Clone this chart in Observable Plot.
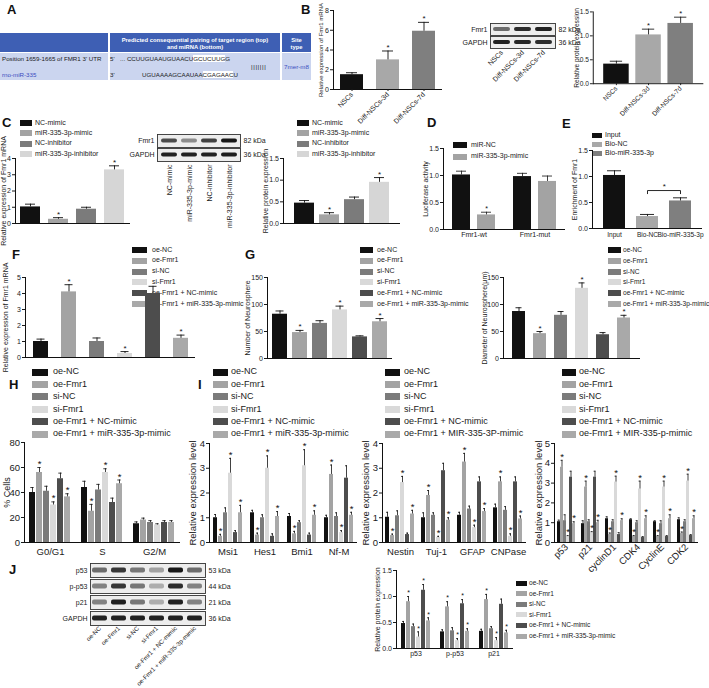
<!DOCTYPE html>
<html><head><meta charset="utf-8">
<script src="https://cdn.jsdelivr.net/npm/d3@7"></script>
<script src="https://cdn.jsdelivr.net/npm/@observablehq/plot@0.6"></script>
<style>
html,body{margin:0;padding:0;background:#fff;}
#fig{position:relative;width:709px;height:688px;overflow:hidden;font-family:'Liberation Sans',Arial,Helvetica,sans-serif;color:#1a1a1a;}
svg{overflow:visible;}
</style></head>
<body><div id="fig"></div>
<script>
// ---------------- DATA ----------------
const series6 = ["oe-NC","oe-Fmr1","si-NC","si-Fmr1","oe-Fmr1 + NC-mimic","oe-Fmr1 + miR-335-3p-mimic"];
const legendI2 = ["oe-NC","oe-Fmr1","si-NC","si-Fmr1","oe-Fmr1 + NC-mimic","oe-Fmr1 + MIR-335-3P-mimic"];
const legendI3 = ["oe-NC","oe-Fmr1","si-NC","si-Fmr1","oe-Fmr1 + NC-mimic","oe-Fmr1 + MIR-335-p-mimic"];
const gray6 = ["#111111","#a3a3a3","#7b7b7b","#d9d9d9","#4d4d4d","#a9a9a9"];

// B
const bCats = ["NSCs","Diff-NSCs-3d","Diff-NSCs-7d"];
const bColors = ["#111111","#a8a8a8","#7f7f7f"];
const bMrna = [1.5, 3.0, 5.9];
const bMrnaErr = [0.2, 0.9, 0.9];
const bMrnaSig = [0, 1, 1];
const bBlotRows = ["Fmr1","GAPDH"];
const bBlotKda = ["82 kDa","36 kDa"];
const bBlot = [[0.55, 0.85, 0.9],[0.9, 0.88, 0.85]];
const bProt = [0.41, 1.02, 1.26];
const bProtErr = [0.06, 0.12, 0.13];
const bProtSig = [0, 1, 1];

// C
const cCats = ["NC-mimic","miR-335-3p-mimic","NC-inhibitor","miR-335-3p-inhibitor"];
const cColors = ["#111111","#a3a3a3","#7b7b7b","#d6d6d6"];
const cMrna = [1.02, 0.26, 0.88, 3.3];
const cMrnaErr = [0.17, 0.1, 0.12, 0.25];
const cMrnaSig = [0, 1, 0, 1];
const cBlotRows = ["Fmr1","GAPDH"];
const cBlotKda = ["82 kDa","36 kDa"];
const cBlot = [[0.7, 0.4, 0.75, 0.95],[0.9, 0.9, 0.9, 0.92]];
const cProt = [0.47, 0.2, 0.55, 0.95];
const cProtErr = [0.06, 0.05, 0.06, 0.11];
const cProtSig = [0, 1, 0, 1];

// D
const dGroups = ["Fmr1-wt","Fmr1-mut"];
const dSeries = ["miR-NC","miR-335-3p-mimic"];
const dColors = ["#111111","#a3a3a3"];
const dValues = [[1.01, 0.27],[0.98, 0.89]];
const dErr = [[0.07, 0.05],[0.06, 0.1]];
const dSig = [[0, 1],[0, 0]];

// E
const eCats = ["Input","Bio-NC","Bio-miR-335-3p"];
const eColors = ["#111111","#a8a8a8","#7f7f7f"];
const eValues = [1.02, 0.23, 0.53];
const eErr = [0.09, 0.04, 0.06];
const eSig = [0, 0, 0];
const eBracketPair = ["Bio-NC","Bio-miR-335-3p"];
const eBracketLevels = [0.67, 0.73];
const eStarLevel = 0.8;

// F, G
const fValues = [1.0, 4.1, 1.0, 0.25, 4.0, 1.2];
const fErr = [0.15, 0.45, 0.22, 0.12, 0.45, 0.2];
const fSig = [0, 1, 0, 1, 0, 1];
const g1Values = [82, 48, 65, 90, 40, 68];
const g1Err = [6, 4, 5, 7, 2, 6];
const g1Sig = [0, 1, 0, 1, 0, 1];
const g2Values = [87, 46, 80, 130, 44, 75];
const g2Err = [7, 4, 7, 10, 4, 5];
const g2Sig = [0, 1, 0, 1, 0, 1];

// H
const hGroups = ["G0/G1","S","G2/M"];
const hValues = [[40, 56, 41, 30, 51, 36.5],[44, 25, 42, 56, 32, 47],[15, 18, 16, 14, 16, 16]];
const hErr = [[4, 4, 4, 2.5, 4.5, 2.5],[5, 5.5, 4.5, 3, 3.5, 3],[1.5, 1.5, 1.5, 1, 1.5, 1.5]];
const hSig = [[0, 1, 0, 1, 0, 1],[0, 1, 0, 1, 0, 1],[0, 0, 0, 0, 0, 0]];

// I
const i1Genes = ["Msi1","Hes1","Bmi1","Nf-M"];
const i1Values = [[1.0, 0.25, 1.2, 2.8, 0.4, 1.2],[1.2, 0.3, 1.0, 3.0, 0.25, 1.05],[1.05, 0.35, 0.8, 3.1, 0.3, 1.1],[1.0, 2.75, 1.05, 0.4, 2.6, 1.1]];
const i1Err = [[0.13, 0.08, 0.2, 0.6, 0.08, 0.3],[0.1, 0.08, 0.12, 0.5, 0.1, 0.2],[0.12, 0.1, 0.08, 0.65, 0.08, 0.18],[0.1, 0.38, 0.15, 0.08, 0.5, 0.12]];
const i1Sig = [[0,1,0,1,0,1],[0,1,0,1,0,1],[0,1,0,1,0,1],[0,1,0,1,0,1]];
const i2Genes = ["Nestin","Tuj-1","GFAP","CNPase"];
const i2Values = [[1.02, 0.28, 1.08, 2.42, 0.32, 1.15],[1.0, 1.9, 1.1, 0.2, 2.9, 0.9],[1.1, 3.25, 1.35, 0.6, 2.45, 1.25],[1.4, 2.45, 1.3, 0.25, 2.45, 0.95]];
const i2Err = [[0.2, 0.06, 0.2, 0.25, 0.06, 0.15],[0.2, 0.2, 0.1, 0.05, 0.3, 0.1],[0.12, 0.35, 0.12, 0.1, 0.2, 0.12],[0.15, 0.2, 0.15, 0.1, 0.2, 0.12]];
const i2Sig = [[0,1,0,1,0,1],[0,1,0,1,0,1],[0,1,0,1,0,1],[0,1,0,1,0,1]];
const i3Genes = ["p53","p21","cyclinD1","CDK4","CyclinE","CDK2"];
const i3Values = [[1.05, 3.8, 1.1, 0.3, 3.3, 0.95],[0.95, 2.8, 1.05, 0.5, 3.3, 1.0],[1.2, 0.4, 1.05, 3.05, 0.4, 1.1],[1.15, 0.3, 1.0, 2.7, 0.25, 1.2],[1.05, 0.3, 0.95, 2.8, 0.3, 1.2],[1.15, 0.45, 1.05, 3.1, 0.35, 1.2]];
const i3Err = [[0.08, 0.35, 0.3, 0.05, 0.3, 0.1],[0.15, 0.3, 0.1, 0.05, 0.3, 0.12],[0.1, 0.08, 0.1, 0.3, 0.1, 0.1],[0.05, 0.05, 0.1, 0.4, 0.05, 0.15],[0.05, 0.05, 0.15, 0.3, 0.05, 0.2],[0.1, 0.08, 0.1, 0.35, 0.05, 0.15]];
const i3Sig = [[0,1,0,1,0,1],[0,1,0,1,0,1],[0,1,0,1,0,1],[0,1,0,1,0,1],[0,1,0,1,0,1],[0,1,0,1,0,1]];

// J
const jBlotRows = ["p53","p-p53","p21","GAPDH"];
const jBlotKda = ["53 kDa","44 kDa","21 kDa","36 kDa"];
const jBlot = [[0.55, 0.8, 0.5, 0.3, 0.95, 0.55],[0.45, 0.8, 0.5, 0.25, 0.85, 0.45],[0.45, 0.9, 0.5, 0.25, 0.9, 0.45],[0.9, 0.9, 0.9, 0.9, 0.9, 0.9]];
const jProteins = ["p53","p-p53","p21"];
const jValues = [[0.48, 0.9, 0.42, 0.22, 1.12, 0.53],[0.32, 0.8, 0.34, 0.15, 0.86, 0.33],[0.33, 0.94, 0.38, 0.15, 0.85, 0.3]];
const jErr = [[0.04, 0.1, 0.05, 0.1, 0.11, 0.06],[0.04, 0.1, 0.06, 0.04, 0.08, 0.05],[0.04, 0.1, 0.04, 0.06, 0.1, 0.05]];
const jSig = [[0,1,0,1,1,1],[0,1,0,1,1,1],[0,1,0,1,0,1]];

// ---------------- HELPERS ----------------
const FONT = "'Liberation Sans', Arial, Helvetica, sans-serif";
const INK = "#111111";
const fig = document.getElementById("fig");
const PAD = {l: 40, r: 6, t: 10, b: 40};

function put(node, left, top) {
  const d = document.createElement("div");
  d.style.cssText = `position:absolute;left:${left}px;top:${top}px;`;
  d.appendChild(node); fig.appendChild(d);
}
function txt(t, left, top, css) {
  const d = document.createElement("div");
  d.textContent = t;
  d.style.cssText = `position:absolute;left:${left}px;top:${top}px;white-space:nowrap;${css || ""}`;
  fig.appendChild(d); return d;
}
function panelLabel(t, x, y) { txt(t, x, y, "font-weight:bold;font-size:13px;line-height:13px;color:#111;"); }
function legend(labels, colors, o) {
  labels.forEach((t, i) => {
    const cy = o.y + i * o.rowH;
    const s = document.createElement("div");
    s.style.cssText = `position:absolute;left:${o.x}px;top:${cy - o.sh / 2}px;width:${o.sw}px;height:${o.sh}px;background:${colors[i]};`;
    fig.appendChild(s);
    txt(t, o.tx, cy - o.fs * 0.62, `font-size:${o.fs}px;line-height:${o.fs * 1.2}px;color:#1a1a1a;`);
  });
}
function dims(f, pad) {
  return {left: f.x0 - pad.l, top: f.y0 - pad.t,
    width: f.x1 - f.x0 + pad.l + pad.r, height: f.y1 - f.y0 + pad.t + pad.b,
    marginLeft: pad.l, marginRight: pad.r, marginTop: pad.t, marginBottom: pad.b};
}
function styleFor(fs) { return {fontFamily: FONT, fontSize: fs + "px", color: "#1a1a1a", background: "transparent", overflow: "visible"}; }
function yAxis(o) {
  const lfs = o.lfs ?? o.fs;
  return [
    Plot.axisY({ticks: o.ticks, tickSize: 3, tickPadding: 1.5, tickFormat: o.fmt, fontSize: o.fs, label: null}),
    Plot.axisY({ticks: [], tickSize: 0, fontSize: lfs, label: o.ylabel, labelAnchor: "center", labelArrow: "none",
      labelOffset: o.frame.x0 - o.labelX + lfs / 2})
  ];
}

function simpleBars(o) {
  const data = o.cats.map((c, i) => ({c, v: o.values[i], e: o.errs[i], s: o.sig[i]}));
  const d = dims(o.frame, PAD);
  const top = (r) => r.v + r.e;
  const marks = [
    Plot.barY(data, {x: "c", y: "v", fill: "c"}),
    Plot.ruleX(data, {x: "c", y1: "v", y2: top, stroke: INK, strokeWidth: 0.9}),
    Plot.tickY(data, {x: "c", y: top, stroke: INK, strokeWidth: 0.9, insetLeft: o.cap, insetRight: o.cap}),
    Plot.text(data.filter((r) => r.s), {x: "c", y: top, text: () => "*", dy: -3.5, fontSize: o.fs + 1, fill: INK}),
    Plot.ruleY([0], {stroke: INK, strokeWidth: 1}),
    Plot.frame({anchor: "left", stroke: INK, strokeWidth: 1}),
    ...yAxis(o)
  ];
  if (o.xlab) marks.push(Plot.axisX({tickSize: o.xtick ?? 2, tickPadding: o.xpad ?? 2, tickRotate: o.rot ?? 0, fontSize: o.xfs ?? o.fs, label: null}));
  if (o.extra) marks.push(...o.extra);
  const xs = {domain: o.cats, paddingInner: o.pi, paddingOuter: o.po};
  if (!o.xlab) xs.axis = null;
  const svg = Plot.plot({
    width: d.width, height: d.height, marginLeft: d.marginLeft, marginRight: d.marginRight,
    marginTop: d.marginTop, marginBottom: d.marginBottom, style: styleFor(o.fs),
    x: xs, y: {domain: [0, o.ymax]}, color: {domain: o.cats, range: o.colors}, marks
  });
  put(svg, d.left, d.top);
}

function groupedBars(o) {
  const data = o.groups.flatMap((g, i) => o.series.map((s, j) => ({g, s, v: o.values[i][j], e: o.errs[i][j], sig: o.sig[i][j]})));
  const d = dims(o.frame, PAD);
  const top = (r) => r.v + r.e;
  const marks = [
    Plot.barY(data, {fx: "g", x: "s", y: "v", fill: "s"}),
    Plot.ruleX(data, {fx: "g", x: "s", y1: "v", y2: top, stroke: INK, strokeWidth: 0.8}),
    Plot.tickY(data, {fx: "g", x: "s", y: top, stroke: INK, strokeWidth: 0.8, insetLeft: o.cap, insetRight: o.cap}),
    Plot.text(data.filter((r) => r.sig), {fx: "g", x: "s", y: top, text: () => "*", dy: -3.5, fontSize: o.fs, fill: INK}),
    Plot.ruleY([0], {stroke: INK, strokeWidth: 1}),
    Plot.frame({anchor: "left", facetAnchor: "left", stroke: INK, strokeWidth: 1}),
    ...yAxis(o),
    Plot.axisFx({anchor: "bottom", tickSize: 0, tickPadding: o.xpad, tickRotate: o.rot ?? 0, fontSize: o.fs, label: null})
  ];
  const svg = Plot.plot({
    width: d.width, height: d.height, marginLeft: d.marginLeft, marginRight: d.marginRight,
    marginTop: d.marginTop, marginBottom: d.marginBottom, style: styleFor(o.fs),
    fx: {domain: o.groups, paddingInner: 0, paddingOuter: 0},
    x: {domain: o.series, paddingInner: o.pi, paddingOuter: o.po, axis: null},
    y: {domain: [0, o.ymax]}, color: {domain: o.series, range: o.colors}, marks
  });
  put(svg, d.left, d.top);
}

function blot(o) {
  const data = o.rows.flatMap((r, i) => o.lanes.map((l, j) => ({r, l, v: o.intensity[i][j]})));
  const d = dims(o.frame, {l: 40, r: 35, t: 2, b: 90});
  const svg = Plot.plot({
    width: d.width, height: d.height, marginLeft: d.marginLeft, marginRight: d.marginRight,
    marginTop: d.marginTop, marginBottom: d.marginBottom, style: styleFor(o.fs),
    x: {domain: o.lanes, paddingInner: 0.2, paddingOuter: 0.12},
    fy: {domain: o.rows, paddingInner: o.gap, paddingOuter: 0},
    color: {type: "linear", domain: [0, 1], range: ["#e2e2e2", "#0c0c0c"]},
    marks: [
      Plot.frame({fill: "#ededed", stroke: "#333", strokeWidth: 0.9}),
      Plot.cell(data, {fy: "r", x: "l", fill: "v", insetTop: o.inset, insetBottom: o.inset, rx: 2}),
      Plot.axisFy({anchor: "left", tickSize: 0, tickPadding: 3, label: null, fontSize: o.fs}),
      Plot.axisFy({anchor: "right", tickSize: 0, tickPadding: 3, label: null, fontSize: o.fs,
        tickFormat: (r) => o.kda[o.rows.indexOf(r)]}),
      Plot.axisX({anchor: "bottom", tickSize: 0, tickPadding: o.xpad ?? 3, tickRotate: o.rot, label: null, fontSize: o.xfs ?? o.fs})
    ]
  });
  put(svg, d.left, d.top);
}

// ---------------- PANEL A (table) ----------------
(function () {
  const box = (l, t, w, h, bg) => {
    const d = document.createElement("div");
    d.style.cssText = `position:absolute;left:${l}px;top:${t}px;width:${w}px;height:${h}px;background:${bg};`;
    fig.appendChild(d); return d;
  };
  box(0, 33, 311, 19, "#3e5fb4");
  box(0, 53, 311, 27, "#cbd5ef");
  box(108, 33, 2, 47, "#ffffff");
  box(280, 33, 2, 47, "#ffffff");
  const hcss = "font-size:5.8px;line-height:7px;font-weight:bold;color:#fff;text-align:center;";
  txt("Predicted consequential pairing of target region (top)", 110, 36.5, hcss + "width:170px;");
  txt("and miRNA (bottom)", 110, 43.5, hcss + "width:170px;");
  txt("Site", 282, 36.5, hcss + "width:29px;");
  txt("type", 282, 43.5, hcss + "width:29px;");
  const bcss = "font-size:6.2px;line-height:7px;color:#1a1a1a;";
  txt("Position 1659-1665 of FMR1 3' UTR", 2, 54.5, bcss);
  txt("rno-miR-335", 2, 70.5, bcss + "color:#3a4cc0;");
  txt("5'", 110, 54.5, bcss);
  txt("3'", 110, 70.5, bcss);
  const s1 = txt("", 120, 54.5, bcss);
  s1.innerHTML = '...&nbsp;CCUUGUAAUGUAACU<span style="background:#fff">GCUCUUG</span>G';
  const s2 = txt("", 142, 70.5, bcss);
  s2.innerHTML = 'UGUAAAAGCAAUAA<span style="background:#fff">CGAGAAC</span>U';
  txt("|||||||", 251, 62.5, bcss + "letter-spacing:0.6px;");
  txt("7mer-m8", 282, 62.5, bcss + "width:29px;text-align:center;color:#3a4cc0;");
})();

// ---------------- LABELS ----------------
panelLabel("A", 7, 3); panelLabel("B", 301, 3);
panelLabel("C", 2, 116); panelLabel("D", 427, 116); panelLabel("E", 562, 117);
panelLabel("F", 12, 248); panelLabel("G", 245, 248);
panelLabel("H", 9, 378); panelLabel("I", 198, 378); panelLabel("J", 9, 563);

const f1 = d3.format(".1f");

// ---------------- B ----------------
simpleBars({cats: bCats, values: bMrna, errs: bMrnaErr, sig: bMrnaSig, colors: bColors,
  frame: {x0: 333, x1: 442, y0: 10, y1: 89}, ymax: 8, ticks: [0, 2, 4, 6, 8], fmt: d3.format("d"), fs: 7, lfs: 6,
  ylabel: "Relative expression of Fmr1 mRNA", labelX: 321, pi: 0.35, po: 0.18, cap: 6, xlab: true, rot: -45});
blot({rows: bBlotRows, lanes: bCats, intensity: bBlot, kda: bBlotKda, frame: {x0: 490, x1: 555, y0: 23, y1: 49},
  gap: 0.06, inset: 4, rot: -45, fs: 7});
simpleBars({cats: bCats, values: bProt, errs: bProtErr, sig: bProtSig, colors: bColors,
  frame: {x0: 595, x1: 712, y0: 12, y1: 88}, ymax: 1.5, ticks: [0, 0.5, 1, 1.5], fmt: f1, fs: 7,
  ylabel: "Relative protein expression", labelX: 578, pi: 0.22, po: 0.3, cap: 7, xlab: true, rot: -45});

// ---------------- C ----------------
legend(cCats, cColors, {x: 20, sw: 12, sh: 6, tx: 35, y: 123, rowH: 10.4, fs: 7});
simpleBars({cats: cCats, values: cMrna, errs: cMrnaErr, sig: cMrnaSig, colors: cColors,
  frame: {x0: 15, x1: 130, y0: 158, y1: 223}, ymax: 4, ticks: [0, 1, 2, 3, 4], fmt: d3.format("d"), fs: 7,
  ylabel: "Relative expression of Fmr1 mRNA", labelX: 4, pi: 0.28, po: 0.15, cap: 5, xlab: false});
blot({rows: cBlotRows, lanes: cCats, intensity: cBlot, kda: cBlotKda, frame: {x0: 157, x1: 240, y0: 133, y1: 162},
  gap: 0.06, inset: 4.5, rot: -90, fs: 7});
legend(cCats, cColors, {x: 297, sw: 12, sh: 6, tx: 312, y: 123, rowH: 10.4, fs: 7});
simpleBars({cats: cCats, values: cProt, errs: cProtErr, sig: cProtSig, colors: cColors,
  frame: {x0: 283, x1: 400, y0: 158, y1: 223}, ymax: 1.5, ticks: [0, 0.5, 1, 1.5], fmt: f1, fs: 7,
  ylabel: "Relative protein expression", labelX: 266, pi: 0.19, po: 0.4, cap: 5, xlab: false});

// ---------------- D ----------------
legend(dSeries, dColors, {x: 453, sw: 14, sh: 6, tx: 471, y: 145, rowH: 11.5, fs: 7});
groupedBars({groups: dGroups, series: dSeries, values: dValues, errs: dErr, sig: dSig, colors: dColors,
  frame: {x0: 442, x1: 565, y0: 148, y1: 229}, ymax: 1.5, ticks: [0, 0.5, 1, 1.5], fmt: f1, fs: 7,
  ylabel: "Luciferase activity", labelX: 425, pi: 0.27, po: 0.32, cap: 4, xpad: 3});

// ---------------- E ----------------
(function () {
  const fr = {x0: 592, x1: 702, y0: 150, y1: 228};
  const pi = 0.33, po = 0.3;
  const step = (fr.x1 - fr.x0) / (eCats.length - pi + 2 * po);
  const bracket = [
    {c: eBracketPair[0], v: eBracketLevels[0]}, {c: eBracketPair[0], v: eBracketLevels[1]},
    {c: eBracketPair[1], v: eBracketLevels[1]}, {c: eBracketPair[1], v: eBracketLevels[0]}];
  legend(eCats, eColors, {x: 592, sw: 10, sh: 5, tx: 605, y: 135, rowH: 9, fs: 7});
  simpleBars({cats: eCats, values: eValues, errs: eErr, sig: eSig, colors: eColors,
    frame: fr, ymax: 1.5, ticks: [0, 0.5, 1, 1.5], fmt: f1, fs: 7, xfs: 6.6,
    ylabel: "Enrichment of Fmr1", labelX: 575, pi, po, cap: 4, xlab: true, xtick: 0, xpad: 4,
    extra: [
      Plot.line(bracket, {x: "c", y: "v", stroke: INK, strokeWidth: 0.9}),
      Plot.text([eBracketPair[0]], {x: (c) => c, y: () => eStarLevel, text: () => "*", dx: step / 2, fontSize: 8, fill: INK})
    ]});
})();

// ---------------- F / G ----------------
legend(series6, gray6, {x: 132, sw: 15, sh: 6, tx: 152, y: 250, rowH: 10.8, fs: 7});
simpleBars({cats: series6, values: fValues, errs: fErr, sig: fSig, colors: gray6,
  frame: {x0: 25, x1: 195, y0: 277, y1: 357}, ymax: 5, ticks: [0, 1, 2, 3, 4, 5], fmt: d3.format("d"), fs: 7,
  ylabel: "Relative expression of Fmr1 mRNA", labelX: 6, pi: 0.47, po: 0.21, cap: 3.5, xlab: false});
legend(series6, gray6, {x: 360, sw: 13, sh: 6, tx: 377, y: 250, rowH: 10.8, fs: 7});
simpleBars({cats: series6, values: g1Values, errs: g1Err, sig: g1Sig, colors: gray6,
  frame: {x0: 267, x1: 392, y0: 277, y1: 358}, ymax: 150, ticks: [0, 50, 100, 150], fmt: d3.format("d"), fs: 7,
  ylabel: "Number of Neurosphere", labelX: 248, pi: 0.27, po: 0.18, cap: 3.5, xlab: false});
legend(series6, gray6, {x: 608, sw: 13, sh: 6, tx: 623, y: 250, rowH: 10.8, fs: 6.6});
simpleBars({cats: series6, values: g2Values, errs: g2Err, sig: g2Sig, colors: gray6,
  frame: {x0: 503, x1: 640, y0: 277, y1: 358}, ymax: 150, ticks: [0, 50, 100, 150], fmt: d3.format("d"), fs: 7,
  ylabel: "Diameter of Neurosphere(μm)", labelX: 485, pi: 0.36, po: 0.3, cap: 3.5, xlab: false});

// ---------------- H ----------------
legend(series6, gray6, {x: 32, sw: 16, sh: 7, tx: 53, y: 372, rowH: 12.4, fs: 9});
groupedBars({groups: hGroups, series: series6, values: hValues, errs: hErr, sig: hSig, colors: gray6,
  frame: {x0: 23, x1: 181, y0: 442, y1: 542}, ymax: 80, ticks: [0, 20, 40, 60, 80], fmt: d3.format("d"), fs: 9.5, lfs: 9,
  ylabel: "% Cells", labelX: 6.5, pi: 0.13, po: 0.7, cap: 1.3, xpad: 6});

// ---------------- I ----------------
legend(series6, gray6, {x: 213, sw: 15, sh: 7, tx: 231, y: 372, rowH: 12.4, fs: 9});
groupedBars({groups: i1Genes, series: series6, values: i1Values, errs: i1Err, sig: i1Sig, colors: gray6,
  frame: {x0: 208, x1: 358, y0: 443, y1: 542}, ymax: 4, ticks: [0, 1, 2, 3, 4], fmt: d3.format("d"), fs: 9.5,
  ylabel: "Relative expression level", labelX: 192, pi: 0.15, po: 0.45, cap: 1, xpad: 6});
legend(legendI2, gray6, {x: 385, sw: 15, sh: 7, tx: 404, y: 372, rowH: 12.4, fs: 9});
groupedBars({groups: i2Genes, series: series6, values: i2Values, errs: i2Err, sig: i2Sig, colors: gray6,
  frame: {x0: 380, x1: 527, y0: 443, y1: 542}, ymax: 4, ticks: [0, 1, 2, 3, 4], fmt: d3.format("d"), fs: 9.5,
  ylabel: "Relative expression level", labelX: 364, pi: 0.15, po: 0.45, cap: 1, xpad: 6});
legend(legendI3, gray6, {x: 562, sw: 14, sh: 7, tx: 579, y: 372, rowH: 12.4, fs: 9});
groupedBars({groups: i3Genes, series: series6, values: i3Values, errs: i3Err, sig: i3Sig, colors: gray6,
  frame: {x0: 552, x1: 699, y0: 443, y1: 542}, ymax: 5, ticks: [0, 1, 2, 3, 4, 5], fmt: d3.format("d"), fs: 9.5,
  ylabel: "Relative expression level", labelX: 537, pi: 0.15, po: 0.33, cap: 0.6, xpad: 3, rot: -45});

// ---------------- J ----------------
blot({rows: jBlotRows, lanes: series6, intensity: jBlot, kda: jBlotKda, frame: {x0: 90, x1: 205, y0: 563, y1: 626},
  gap: 0.1, inset: 4.5, rot: -45, fs: 7, xfs: 6.2, xpad: 2});
legend(series6, gray6, {x: 516, sw: 11, sh: 5, tx: 529, y: 583, rowH: 10.6, fs: 6.6});
groupedBars({groups: jProteins, series: series6, values: jValues, errs: jErr, sig: jSig, colors: gray6,
  frame: {x0: 395, x1: 513, y0: 570, y1: 648}, ymax: 1.5, ticks: [0, 0.5, 1, 1.5], fmt: f1, fs: 7,
  ylabel: "Relative protein expression", labelX: 377, pi: 0.15, po: 0.5, cap: 1, xpad: 3});
</script>
</body></html>
